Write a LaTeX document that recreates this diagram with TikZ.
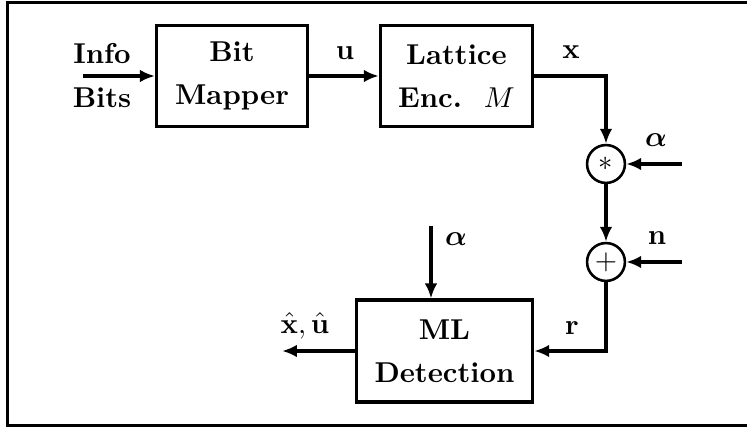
\documentclass[tikz,border=0pt]{standalone}
\usepackage{amsmath,bm}
\usetikzlibrary{arrows.meta,calc}
\begin{document}
\begin{tikzpicture}[x=0.3484pt,y=-0.3484pt,
  line width=1.15pt,
  arr/.style={-{Latex[length=5.2pt,width=4.4pt]}},
  blk/.style={draw,rectangle,align=center,font=\bfseries,inner sep=0pt},
  sumc/.style={draw,circle,line width=0.9pt,minimum size=13.2pt,inner sep=0pt},
  lab/.style={font=\bfseries,inner sep=0pt}]
\useasboundingbox (0,0) rectangle (747,427);
\draw (747,2.5) -- (7.5,2.5) -- (7.5,425.5) -- (747,425.5);
% blocks
\node[blk,minimum width=52.6pt,minimum height=35.2pt] (bm) at (232,76) {Bit\\[3pt]Mapper};
\node[blk,minimum width=53pt,minimum height=35.2pt] (le) at (456.5,76) {Lattice\\[3pt]Enc.\ \ $M$};
\node[blk,minimum width=61.4pt,minimum height=35.5pt] (ml) at (444.5,351) {ML\\[3pt]Detection};
\node[sumc] (mul) at (606,164) {$*$};
\node[sumc] (add) at (606,262) {$+$};
% free ends
\coordinate (in) at (83,76);
\coordinate (ain) at (682,164);
\coordinate (nin) at (682,262);
\coordinate (a2) at (431,226);
\coordinate (out) at (282,351);
% labels
\node[lab] (info) at (102,54) {Info};
\node[lab] (bits) at (102,98) {Bits};
\node[lab] (ul) at (345,53) {$\mathbf{u}$};
\node[lab] (xl) at (571,52) {$\mathbf{x}$};
\node[lab] (al) at (656,140) {$\bm{\alpha}$};
\node[lab] (nl) at (657,238) {$\mathbf{n}$};
\node[lab] (a2l) at (456,239) {$\bm{\alpha}$};
\node[lab] (rl) at (572,328) {$\mathbf{r}$};
\node[lab] (ol) at (305,326) {$\hat{\mathbf{x}}, \hat{\mathbf{u}}$};
% connectors
\draw[arr] (in) -- (bm.west);
\draw[arr] (bm.east) -- (le.west);
\draw[arr] (le.east) -| (mul.north);
\draw[arr] (ain) -- (mul.east);
\draw[arr] (mul.south) -- (add.north);
\draw[arr] (nin) -- (add.east);
\draw[arr] (add.south) |- (ml.east);
\draw[arr] (a2) -- (a2 |- ml.north);
\draw[arr] (ml.west) -- (out);
\end{tikzpicture}
\end{document}
